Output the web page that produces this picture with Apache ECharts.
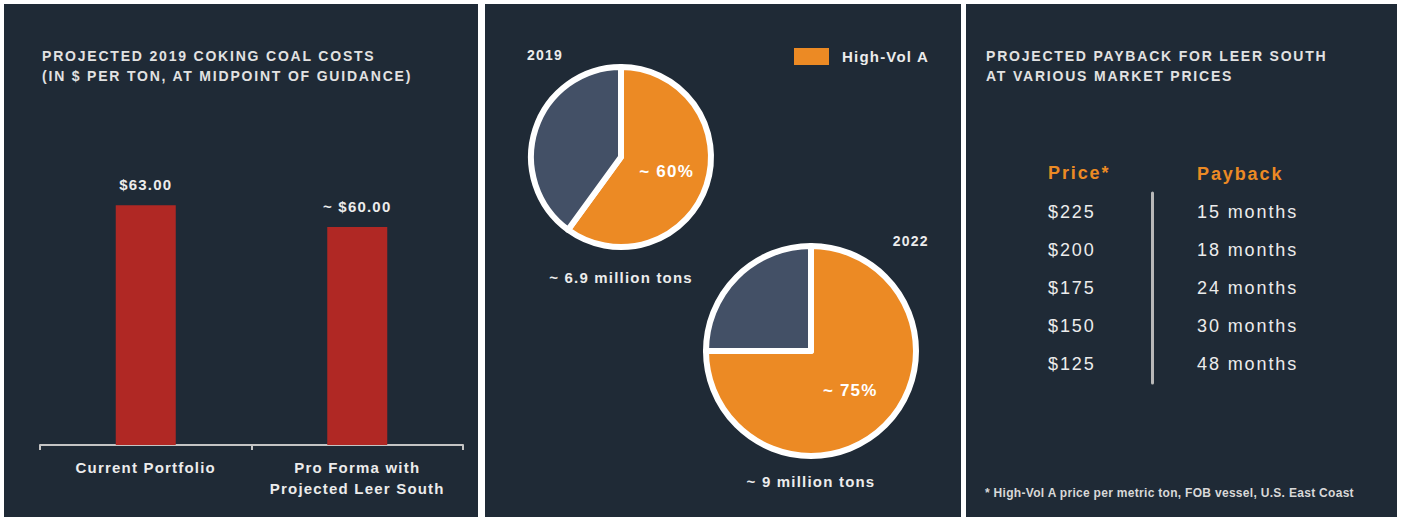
<!DOCTYPE html>
<html>
<head>
<meta charset="utf-8">
<script src="https://cdn.jsdelivr.net/npm/echarts@6/dist/echarts.min.js"></script>
<style>
  html, body { margin: 0; padding: 0; background: #ffffff; }
  #chart { width: 1403px; height: 517px; }
  /* tracking for the slide-style lettering */
  #chart text { letter-spacing: 1.2px; }
  #chart text[style*="Helvetica"] { letter-spacing: 1.8px; }
  #chart text[style*="Nimbus"] { letter-spacing: 1.9px; }
  #chart text[style*="Arial"] { letter-spacing: 0.3px; }
</style>
</head>
<body>
<div id="chart"></div>
<script>
// ---- data ----
const costCategories = ['Current Portfolio', 'Pro Forma with\nProjected Leer South'];
const costValues = [63, 60];
const costLabels = ['$63.00', '~ $60.00'];

const mixYears = ['2019', '2022'];
const highVolShare = [60, 75];
const otherShare = [40, 25];
const mixTotals = ['~ 6.9 million tons', '~ 9 million tons'];

const prices = ['$225', '$200', '$175', '$150', '$125'];
const paybackMonths = [15, 18, 24, 30, 48];

// ---- styling ----
const BODY = "'Liberation Sans', sans-serif";
const TITLE = "'Liberation Sans', Helvetica, sans-serif";
const TABLE = "'Liberation Sans', 'Nimbus Sans', sans-serif";
const NOTE = "'Liberation Sans', Arial, sans-serif";
const PANEL = '#1f2a36';
const RED = '#b02824';
const ORANGE = '#ec8a24';
const SLATE = '#435066';
const TEXT = '#ececec';

// panel rectangles [x, width]
const panels = [[4, 474], [485, 476], [966, 431]];
const pieCenters = [[621, 157], [811, 351]];
const pieRadius = [90, 105];

const chart = echarts.init(document.getElementById('chart'), null, { renderer: 'svg' });

const graphics = panels.map(p => ({
  type: 'rect', z: -10, silent: true,
  shape: { x: p[0], y: 4, width: p[1], height: 513 },
  style: { fill: PANEL }
}));

// year tags and tonnage captions for the two pies
graphics.push(
  { type: 'text', left: 527, top: 48, style: { text: mixYears[0], fill: TEXT, font: `bold 14px ${BODY}` } },
  { type: 'text', right: 479, top: 234, style: { text: mixYears[1], fill: TEXT, font: `bold 14px ${BODY}` } }
);
mixTotals.forEach((t, i) => {
  graphics.push({
    type: 'text',
    x: pieCenters[i][0], y: pieCenters[i][1] + (i === 0 ? 120 : 130),
    style: { text: t, fill: TEXT, font: `bold 15px ${BODY}`, align: 'center', verticalAlign: 'middle' }
  });
});

// payback table headers and footnote
graphics.push(
  { type: 'text', x: 1048, y: 173, style: { text: 'Price*', fill: ORANGE, font: `bold 18px ${TABLE}`, verticalAlign: 'middle' } },
  { type: 'text', x: 1197, y: 174, style: { text: 'Payback', fill: ORANGE, font: `bold 18px ${TABLE}`, verticalAlign: 'middle' } },
  { type: 'text', x: 985, y: 493, style: { text: '* High-Vol A price per metric ton, FOB vessel, U.S. East Coast', fill: '#d8d8d8', font: `bold 12px ${NOTE}`, verticalAlign: 'middle' } }
);

const pieSeries = mixYears.map((y, i) => ({
  type: 'pie',
  name: y,
  center: pieCenters[i],
  radius: [0, pieRadius[i]],
  startAngle: 90,
  clockwise: true,
  silent: true,
  itemStyle: { borderColor: '#ffffff', borderWidth: 6 },
  label: {
    show: true, position: 'inside', formatter: '~ {c}%',
    color: '#ffffff', fontSize: 17, fontWeight: 'bold', fontFamily: BODY
  },
  labelLine: { show: false },
  data: [
    { name: 'High-Vol A', value: highVolShare[i], itemStyle: { color: ORANGE } },
    { name: 'Other', value: otherShare[i], itemStyle: { color: SLATE }, label: { show: false } }
  ]
}));

chart.setOption({
  backgroundColor: '#ffffff',
  animation: false,
  graphic: graphics,
  title: [
    {
      text: 'PROJECTED 2019 COKING COAL COSTS\n(IN $ PER TON, AT MIDPOINT OF GUIDANCE)',
      left: 42, top: 46, padding: 0,
      textStyle: { color: '#e2e2e2', fontSize: 14, fontWeight: 'bold', lineHeight: 20, fontFamily: TITLE }
    },
    {
      text: 'PROJECTED PAYBACK FOR LEER SOUTH\nAT VARIOUS MARKET PRICES',
      left: 986, top: 46, padding: 0,
      textStyle: { color: '#e2e2e2', fontSize: 14, fontWeight: 'bold', lineHeight: 20, fontFamily: TITLE }
    }
  ],
  legend: {
    data: ['High-Vol A'],
    left: 794, top: 48, padding: 0,
    icon: 'rect', itemWidth: 35, itemHeight: 17,
    itemStyle: { borderWidth: 0 },
    selectedMode: false,
    textStyle: { color: TEXT, fontSize: 15, fontWeight: 'bold', fontFamily: BODY, padding: [0, 0, 0, 8] }
  },
  grid: [
    { left: 40, width: 423, top: 118, height: 327 },
    { left: 1152, width: 38, top: 193, height: 190 }
  ],
  xAxis: [
    {
      gridIndex: 0, type: 'category', data: costCategories,
      axisLine: { lineStyle: { color: '#c4c4c4', width: 2 } },
      axisTick: { show: true, length: 5, lineStyle: { color: '#c4c4c4', width: 2 } },
      axisLabel: { interval: 0, color: TEXT, fontSize: 15, fontWeight: 'bold', lineHeight: 21, margin: 12, fontFamily: BODY }
    },
    { gridIndex: 1, type: 'value', show: false, min: 0, max: 1 }
  ],
  yAxis: [
    { gridIndex: 0, type: 'value', min: 30, max: 75, show: false },
    {
      gridIndex: 1, type: 'category', data: prices, inverse: true, position: 'left',
      axisLine: { show: true, lineStyle: { color: '#b8b8b8', width: 3 } },
      axisTick: { show: false },
      axisLabel: { align: 'left', margin: 104, color: TEXT, fontSize: 18, fontFamily: TABLE }
    },
    {
      gridIndex: 1, type: 'category', data: paybackMonths.map(m => m + ' months'), inverse: true, position: 'right',
      axisLine: { show: false }, axisTick: { show: false },
      axisLabel: { align: 'left', margin: 7, color: TEXT, fontSize: 18, fontFamily: TABLE }
    }
  ],
  series: [
    {
      type: 'bar', xAxisIndex: 0, yAxisIndex: 0,
      data: costValues, barWidth: 60, silent: true,
      itemStyle: { color: RED },
      label: {
        show: true, position: 'top', distance: 13,
        formatter: p => costLabels[p.dataIndex],
        color: TEXT, fontSize: 15, fontWeight: 'bold', fontFamily: BODY
      }
    },
    {
      type: 'scatter', xAxisIndex: 1, yAxisIndex: 1, silent: true,
      symbolSize: 0,
      data: prices.map(p => [0, p])
    },
    ...pieSeries
  ]
});
</script>
</body>
</html>
